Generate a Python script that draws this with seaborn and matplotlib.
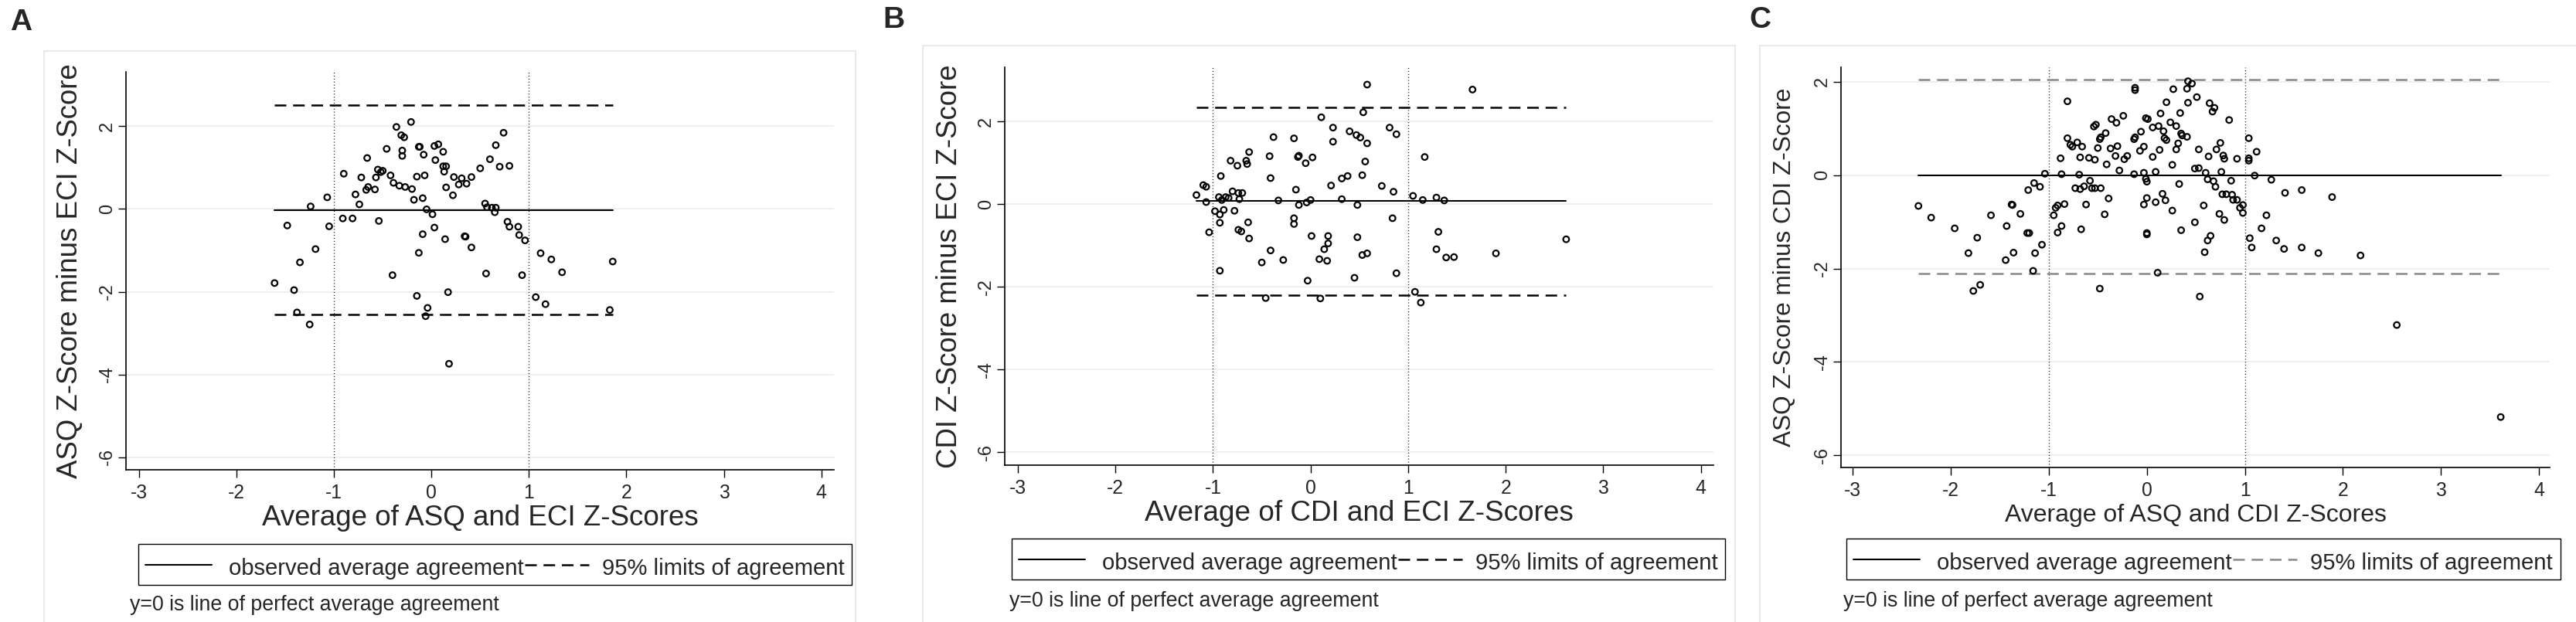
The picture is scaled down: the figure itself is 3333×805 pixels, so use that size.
import matplotlib
matplotlib.use("Agg")
import matplotlib.pyplot as plt
from matplotlib.lines import Line2D
from matplotlib.patches import Rectangle
import seaborn as sns

# ---- panel A: ASQ vs ECI ----
asq_eci_avg = [-1.61, -1.48, -1.41, -1.38, -1.35, -1.25, -1.24, -1.19, -1.07, -1.05,
               -0.90, -0.91, -0.81, -0.78, -0.74, -0.72, -0.66, -0.67, -0.65, -0.58,
               -0.57, -0.55, -0.54, -0.52, -0.50, -0.46, -0.42, -0.40, -0.39, -0.36,
               -0.33, -0.30, -0.30, -0.31, -0.28, -0.27, -0.21, -0.20, -0.18, -0.15,
               -0.15, -0.13, -0.13, -0.12, -0.09, -0.09, -0.08, -0.07, -0.06, -0.04,
               -0.05, 0.01, 0.03, 0.03, 0.04, 0.07, 0.12, 0.12, 0.13, 0.15,
               0.14, 0.15, 0.17, 0.18, 0.22, 0.23, 0.28, 0.31, 0.34, 0.35,
               0.36, 0.41, 0.41, 0.50, 0.55, 0.56, 0.57, 0.60, 0.62, 0.66,
               0.66, 0.65, 0.70, 0.74, 0.78, 0.80, 0.80, 0.89, 0.90, 0.93,
               0.96, 1.07, 1.12, 1.17, 1.23, 1.34, 1.83, 1.86]
asq_eci_diff = [-1.79, -0.40, -1.96, -2.50, -1.29, -2.79, 0.06, -0.97, 0.28, -0.42,
                0.85, -0.23, -0.23, 0.35, 0.11, 0.76, 1.23, 0.46, 0.53, 0.47,
                0.76, 0.95, -0.29, 0.89, 0.92, 1.45, 0.81, -1.60, 0.63, 1.98,
                0.56, 1.41, 1.28, 1.78, 1.73, 0.53, 2.10, 0.48, 0.22, 0.78,
                -2.10, -1.06, 1.50, 1.50, -0.61, 0.26, 1.31, 0.81, -2.59, -2.39,
                -0.01, -0.13, -0.45, 1.52, 1.18, 1.56, 1.38, 1.03, 0.90, 1.03,
                -0.73, 0.52, -2.01, -3.74, 0.33, 0.77, 0.59, 0.74, -0.66, -0.67,
                0.61, -0.93, 0.77, 0.98, 0.13, -1.56, 0.04, 1.20, 0.03, 1.54,
                0.03, -0.08, 1.02, 1.84, -0.31, -0.43, 1.04, -0.43, -0.63, -1.60,
                -0.76, -2.13, -1.07, -2.30, -1.22, -1.53, -2.44, -1.27]
asq_eci_mean, asq_eci_limits = -0.03, (-2.54, 2.50)

# ---- panel B: CDI vs ECI ----
cdi_eci_avg = [-1.17, -1.10, -1.07, -1.07, -1.04, -0.98, -0.94, -0.92, -0.93, -0.93,
               -0.93, -0.91, -0.89, -0.87, -0.84, -0.82, -0.80, -0.78, -0.75, -0.74,
               -0.73, -0.74, -0.71, -0.70, -0.66, -0.65, -0.64, -0.63, -0.63, -0.50,
               -0.42, -0.41, -0.41, -0.46, -0.38, -0.33, -0.28, -0.17, -0.17, -0.17,
               -0.15, -0.13, -0.12, -0.12, -0.05, -0.04, -0.03, 0.00, 0.01, 0.02,
               0.09, 0.10, 0.11, 0.14, 0.17, 0.18, 0.18, 0.21, 0.23, 0.23,
               0.32, 0.32, 0.38, 0.40, 0.45, 0.48, 0.48, 0.47, 0.51, 0.53,
               0.53, 0.54, 0.56, 0.58, 0.58, 0.58, 0.73, 0.81, 0.84, 0.85,
               0.88, 0.88, 1.05, 1.07, 1.13, 1.15, 1.17, 1.29, 1.29, 1.31,
               1.37, 1.39, 1.47, 1.66, 1.90, 2.62]
cdi_eci_diff = [0.22, 0.46, 0.42, 0.05, -0.68, -0.17, 0.17, 0.68, -0.25, -0.45,
                -1.61, 0.10, -0.14, 0.17, 0.15, 1.05, 0.31, -0.16, 0.93, 0.27,
                0.12, -0.62, -0.66, 0.27, 1.05, 0.97, -0.44, -0.83, 1.26, -1.41,
                1.16, 0.63, -1.12, -2.27, 1.62, 0.09, -1.35, -0.34, -0.48, 1.59,
                0.35, 1.14, 1.17, -0.02, 0.99, 0.04, -1.85, 0.10, -0.77, 1.13,
                -1.33, -2.28, 2.10, -1.09, -1.37, -0.95, -0.77, 0.45, 1.85, 1.51,
                0.62, 0.12, 0.68, 1.76, -1.78, -0.02, -0.80, 1.67, 1.61, 0.70,
                -1.23, 2.22, 1.03, 1.47, 2.89, -1.19, 0.44, 1.85, -0.34, 0.30,
                -1.67, 1.69, 0.20, -2.12, -2.38, 0.10, 1.14, -1.09, 0.16, -0.67,
                0.09, -1.29, -1.28, 2.77, -1.19, -0.85]
cdi_eci_mean, cdi_eci_limits = 0.07, (-2.20, 2.33)

# ---- panel C: ASQ vs CDI ----
asq_cdi_avg = [-2.33, -2.20, -1.96, -1.82, -1.77, -1.73, -1.70, -1.59, -1.44, -1.43,
               -1.38, -1.37, -1.36, -1.29, -1.22, -1.20, -1.21, -1.16, -1.15, -1.14,
               -1.09, -1.07, -1.04, -0.95, -0.93, -0.91, -0.91, -0.88, -0.87, -0.87,
               -0.84, -0.81, -0.81, -0.78, -0.76, -0.73, -0.71, -0.69, -0.68, -0.68,
               -0.66, -0.67, -0.64, -0.62, -0.59, -0.58, -0.56, -0.54, -0.52, -0.53,
               -0.53, -0.50, -0.48, -0.47, -0.47, -0.48, -0.43, -0.42, -0.41, -0.39,
               -0.37, -0.36, -0.32, -0.31, -0.30, -0.28, -0.24, -0.23, -0.20, -0.13,
               -0.12, -0.13, -0.12, -0.12, -0.07, -0.06, -0.03, -0.01, 0.01, 0.06,
               0.06, 0.09, -0.03, -0.01, 0.00, 0.00, -0.03, 0.00, 0.00, 0.09,
               0.11, 0.12, 0.13, 0.14, 0.16, 0.17, 0.18, 0.19, 0.20, 0.20,
               0.24, 0.26, 0.26, 0.27, 0.30, 0.30, 0.32, 0.33, 0.34, 0.35,
               0.36, 0.35, 0.41, 0.41, 0.42, 0.42, 0.46, 0.49, 0.49, 0.51,
               0.53, 0.53, 0.58, 0.59, 0.60, 0.62, 0.62, 0.63, 0.64, 0.65,
               0.67, 0.69, 0.68, 0.70, 0.71, 0.74, 0.75, 0.76, 0.77, 0.78,
               0.79, 0.79, 0.81, 0.84, 0.86, 0.87, 0.88, 0.92, 0.92, 0.95,
               0.98, 0.98, 1.04, 1.04, 1.04, 1.05, 1.07, 1.10, 1.12, 1.17,
               1.22, 1.27, 1.32, 1.40, 1.41, 1.58, 1.58, 1.75, 1.89, 2.18,
               0.54, 2.55, 3.61]
asq_cdi_diff = [-0.66, -0.91, -1.14, -1.67, -2.48, -1.34, -2.35, -0.86, -1.82, -1.09,
                -0.63, -0.64, -1.66, -0.83, -1.24, -1.24, -0.32, -2.05, -0.17, -1.67,
                -0.25, -1.49, 0.03, -0.86, -0.70, -0.65, -1.23, 0.36, -1.09, 0.02,
                -0.62, 1.58, 0.79, 0.65, 0.61, -0.28, 0.70, 0.01, 0.38, -0.30,
                0.61, -1.16, -0.24, -0.63, 0.37, -0.12, -0.28, 1.04, 1.08, 0.33,
                -0.28, 0.58, 0.77, 0.81, -0.28, -2.43, -0.84, 0.90, 0.23, -0.50,
                0.57, 1.20, 0.41, 1.12, 0.62, 0.10, 1.27, 0.34, 0.41, 0.77,
                0.81, 0.02, 1.87, 1.82, 0.52, 0.93, 0.61, 1.22, 1.20, 1.02,
                0.39, 0.07, 0.05, -0.08, -0.14, -0.49, -0.63, -1.24, -1.27, -0.58,
                -2.09, 1.05, 0.54, 1.32, -0.40, 0.94, 0.79, -0.54, 0.75, 1.56,
                1.13, 0.22, -0.76, 1.84, 1.05, 0.55, 0.68, -0.19, 1.33, 0.89,
                0.85, -1.18, 1.85, 0.82, 1.55, 2.01, 1.96, -1.01, 0.14, 1.67,
                0.15, 0.55, -0.65, -1.65, 0.05, -0.09, -1.40, 0.40, 1.54, -1.30,
                1.36, 1.44, -0.13, -0.25, 0.55, -0.83, 0.69, 0.07, -0.41, 0.42,
                -0.96, 0.35, -0.41, 1.18, -0.12, -0.42, -0.53, -0.53, 0.35, -0.70,
                -0.64, -0.81, 0.79, 0.36, 0.31, -1.35, -1.55, -0.01, 0.50, -1.14,
                -0.86, -0.10, -1.40, -1.58, -0.38, -0.32, -1.55, -1.67, -0.47, -1.72,
                -2.60, -3.21, -5.18]
asq_cdi_mean, asq_cdi_limits = -0.01, (-2.10, 2.05)

x_ticks = [-3, -2, -1, 0, 1, 2, 3, 4]
y_ticks = [-6, -4, -2, 0, 2]
ref_lines = [-1, 1]
legend_labels = ["observed average agreement", "95% limits of agreement"]
note = "y=0 is line of perfect average agreement"

sns.set_theme(style="white")
plt.rcParams["font.family"] = ["Liberation Sans", "DejaVu Sans"]

W, H = 3333, 805
fig = plt.figure(figsize=(W / 100, H / 100), dpi=100)
fig.patch.set_facecolor("white")


def fx(px):
    return px / W


def fy(py):
    return 1 - py / H


panels = [
    dict(letter="A", letter_pos=(13, 39), frame=(57, 66, 1107),
         box=(163, 93, 1079, 608), ylim=(-6.30, 3.31), xlim=(-3.135, 4.13),
         x=asq_eci_avg, y=asq_eci_diff, mean=asq_eci_mean, lim=asq_eci_limits,
         xlabel="Average of ASQ and ECI Z-Scores", xl_y=670, xl_size=26.5,
         ylabel="ASQ Z-Score minus ECI Z-Score", yl_x=91, yl_size=26.4,
         dash_color="black", legend=(179, 704, 1102, 757), note_pos=(168, 783)),
    dict(letter="B", letter_pos=(1142, 36), frame=(1194, 59, 2245),
         box=(1300, 87, 2217, 602), ylim=(-6.31, 3.31), xlim=(-3.135, 4.13),
         x=cdi_eci_avg, y=cdi_eci_diff, mean=cdi_eci_mean, lim=cdi_eci_limits,
         xlabel="Average of CDI and ECI Z-Scores", xl_y=664, xl_size=26.6,
         ylabel="CDI Z-Score minus ECI Z-Score", yl_x=1228, yl_size=26.4,
         dash_color="black", legend=(1309, 697, 2232, 750), note_pos=(1306, 778)),
    dict(letter="C", letter_pos=(2263, 36), frame=(2277, 59, 3345),
         box=(2382, 87, 3299, 605), ylim=(-6.26, 2.31), xlim=(-3.12, 4.11),
         x=asq_cdi_avg, y=asq_cdi_diff, mean=asq_cdi_mean, lim=asq_cdi_limits,
         xlabel="Average of ASQ and CDI Z-Scores", xl_y=667, xl_size=23,
         ylabel="ASQ Z-Score minus CDI Z-Score", yl_x=2309, yl_size=22.7,
         dash_color="#888888", legend=(2389, 697, 3313, 750), note_pos=(2385, 778)),
]

for p in panels:
    # light outer frame of each graph region
    fl, ft, fr = p["frame"]
    fig.add_artist(Rectangle((fx(fl), fy(H + 20)), fx(fr) - fx(fl), fy(ft) - fy(H + 20),
                             transform=fig.transFigure, fill=False,
                             edgecolor="#e3ebef", lw=1.5))
    fig.text(fx(p["letter_pos"][0]), fy(p["letter_pos"][1]), p["letter"],
             fontsize=28, fontweight="bold", ha="left", va="baseline")

    l, t, r, b = p["box"]
    ax = fig.add_axes([fx(l), fy(b), fx(r) - fx(l), fy(t) - fy(b)])
    ax.set_facecolor("white")

    sns.scatterplot(x=p["x"], y=p["y"], ax=ax, s=30, marker="o", linewidth=1.6, zorder=4)
    pts = ax.collections[-1]
    pts.set_facecolor("none")
    pts.set_edgecolor("black")

    xmin, xmax = min(p["x"]), max(p["x"])
    ax.plot([xmin, xmax], [p["mean"], p["mean"]], color="black", lw=1.5, zorder=3)
    for v in p["lim"]:
        ax.plot([xmin, xmax], [v, v], color=p["dash_color"], lw=1.8,
                dashes=(6, 3.5), zorder=3)
    for v in ref_lines:
        ax.axvline(v, color="#222222", lw=1.0, ls=(0, (0.8, 2.0)), zorder=2)

    ax.set_xlim(*p["xlim"])
    ax.set_ylim(*p["ylim"])
    ax.set_xticks(x_ticks)
    ax.set_xticklabels([str(v) for v in x_ticks], fontsize=17.8)
    ax.set_yticks(y_ticks)
    ax.set_yticklabels([str(v) for v in y_ticks], rotation=90, va="center", fontsize=17)
    ax.tick_params(axis="x", bottom=True, direction="out", length=7.2, width=1,
                   pad=6, color="black")
    ax.tick_params(axis="y", left=True, direction="out", length=7.2, width=1,
                   pad=2, color="black")

    ax.yaxis.grid(True, color="#e6eef1", lw=1.2)
    ax.xaxis.grid(False)
    ax.set_axisbelow(True)
    for side in ["top", "right"]:
        ax.spines[side].set_visible(False)
    for side in ["left", "bottom"]:
        ax.spines[side].set_visible(True)
        ax.spines[side].set_color("black")
        ax.spines[side].set_linewidth(1.2)

    height = b - t
    width = r - l
    ax.set_xlabel(p["xlabel"], fontsize=p["xl_size"], va="center")
    ax.xaxis.set_label_coords(0.5, (b - p["xl_y"]) / height)
    ax.set_ylabel(p["ylabel"], fontsize=p["yl_size"], va="center")
    ax.yaxis.set_label_coords((p["yl_x"] - l) / width, 0.5)

    # legend box under the axes, laid out like the Stata key
    ll, lt, lr, lb = p["legend"]
    fig.add_artist(Rectangle((fx(ll), fy(lb)), fx(lr) - fx(ll), fy(lt) - fy(lb),
                             transform=fig.transFigure, fill=False,
                             edgecolor="black", lw=1.0))
    ymid = fy((lt + lb) / 2)
    base = fy(lb - 13)
    fig.add_artist(Line2D([fx(ll + 9), fx(ll + 95)], [ymid, ymid],
                          transform=fig.transFigure, color="black", lw=1.5))
    fig.text(fx(ll + 117), base, legend_labels[0], fontsize=21.1,
             ha="left", va="baseline")
    fig.add_artist(Line2D([fx(ll + 500), fx(ll + 583)], [ymid, ymid],
                          transform=fig.transFigure, color=p["dash_color"], lw=1.8,
                          dashes=(6, 3.5)))
    fig.text(fx(ll + 600), base, legend_labels[1], fontsize=21.1,
             ha="left", va="baseline")

    fig.text(fx(p["note_pos"][0]), fy(p["note_pos"][1]), note,
             fontsize=19.3, ha="left", va="center")

fig.savefig("out.png", dpi=100, facecolor="white")
